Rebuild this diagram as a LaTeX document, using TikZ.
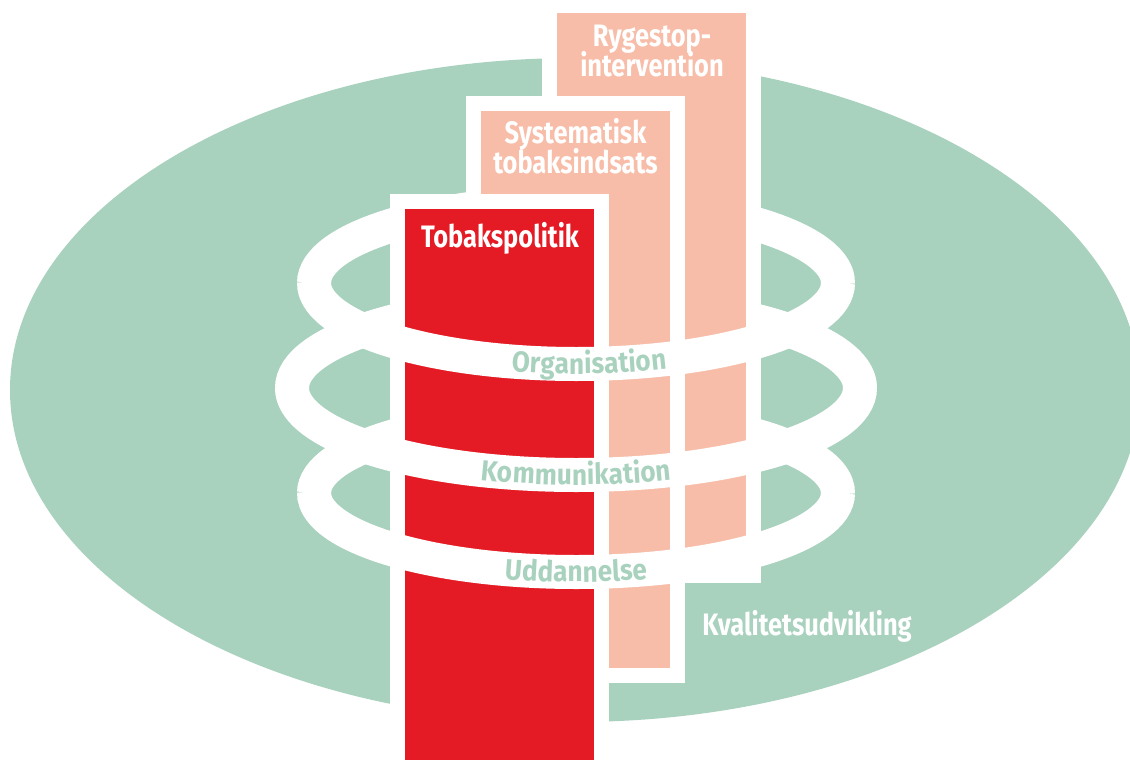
\documentclass[tikz,border=0pt]{standalone}
\usepackage{fontspec}
\newfontfamily\condfont{Fira Sans}[FakeStretch=0.82]
\newfontfamily\ringcondfont{Fira Sans}[FakeStretch=0.9]
\usetikzlibrary{decorations.text}
\definecolor{bggreen}{HTML}{A8D1BE}
\definecolor{salmon}{HTML}{F7BDA8}
\definecolor{polred}{HTML}{E41B24}
\newcommand\myringfont{\ringcondfont\bfseries\fontsize{29}{29}\selectfont\color{bggreen}}
\tikzset{
  ringband/.style={draw=white, line width=34pt},
  labeltext/.style={font=\condfont\bfseries\fontsize{31}{31}\selectfont, text=white, anchor=base, inner sep=0pt},
  ringlabel/.style={decorate, decoration={text along path, text align=center, raise=-10pt, text={|\myringfont|#1}}}
}
\begin{document}
\begin{tikzpicture}[x=1pt,y=-1pt]
\useasboundingbox (0,0) rectangle (1130,760);
\clip (0,0) rectangle (1130,760);
% background ellipse
\fill[bggreen] (575,390) ellipse [x radius=565, y radius=332];
% back halves of rings
\draw[ringband] (314,283) arc[start angle=180, end angle=361, x radius=262, y radius=81];
\draw[ringband] (292,388) arc[start angle=180, end angle=361, x radius=284, y radius=87];
\draw[ringband] (314,493) arc[start angle=180, end angle=361, x radius=262, y radius=79];
% back column
\fill[white] (542,-5) rectangle (761,583);
\fill[salmon] (557,12.7) rectangle (746,568);
% middle column
\fill[white] (466,96) rectangle (685,683);
\fill[salmon] (481,111) rectangle (670,668);
% front column
\fill[white] (390,194) rectangle (609,765);
\fill[polred] (405,209) rectangle (594,765);
% front halves of rings
\draw[ringband] (838,283) arc[start angle=0, end angle=181, x radius=262, y radius=81];
\draw[ringband] (860,388) arc[start angle=0, end angle=181, x radius=284, y radius=87];
\draw[ringband] (838,493) arc[start angle=0, end angle=181, x radius=262, y radius=79];
% ring labels
\path[ringlabel=Organisation] (329.8,310.7) arc[start angle=160, end angle=4.8, x radius=262, y radius=81];
\path[ringlabel=Kommunikation] (296.3,403.1) arc[start angle=170, end angle=10, x radius=284, y radius=87];
\path[ringlabel=Uddannelse] (318.0,506.7) arc[start angle=170, end angle=10, x radius=262, y radius=79];
% column labels
\node[labeltext] (ryg1) at (652,47) {Rygestop-};
\node[labeltext] (ryg2) at (652,77) {intervention};
\node[labeltext] (sys1) at (575.5,143) {Systematisk};
\node[labeltext] (sys2) at (575.5,173) {tobaksindsats};
\node[labeltext] (pol) at (500,247) {Tobakspolitik};
\node[labeltext] (kval) at (807,635) {Kvalitetsudvikling};
\end{tikzpicture}
\end{document}
